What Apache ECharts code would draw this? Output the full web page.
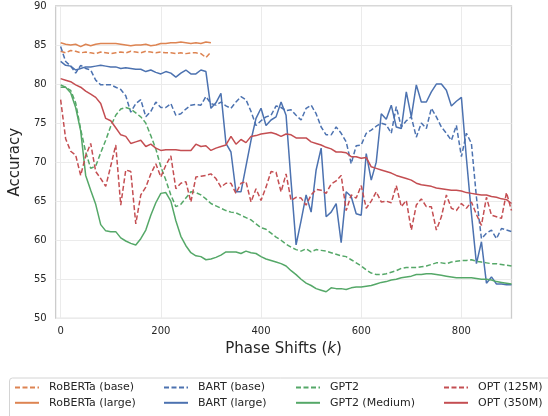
<!DOCTYPE html>
<html>
<head>
<meta charset="utf-8">
<script src="https://cdn.jsdelivr.net/npm/echarts@6/dist/echarts.min.js"></script>
<style>
html,body{margin:0;padding:0;background:#fff;}
#chart{width:548px;height:416px;}
</style>
</head>
<body>
<div id="chart"></div>
<script>
const shifts = [0,10,20,30,40,50,60,70,80,90,100,110,120,130,140,150,160,170,180,190,200,210,220,230,240,250,260,270,280,290,300,310,320,330,340,350,360,370,380,390,400,410,420,430,440,450,460,470,480,490,500,510,520,530,540,550,560,570,580,590,600,610,620,630,640,650,660,670,680,690,700,710,720,730,740,750,760,770,780,790,800,810,820,830,840,850,860,870,880,890,900];

const xTicks = [0,200,400,600,800];

const robertaBase = [84.2,84.0,84.3,84.2,84.0,84.1,84.0,83.9,84.1,84.0,83.9,84.0,84.1,84.0,84.2,84.1,84.0,84.2,84.1,84.0,84.1,84.0,84.0,83.9,84.0,83.9,84.0,84.0,83.9,83.4,84.1];
const robertaLarge = [85.3,85.1,85.0,85.1,84.8,85.1,84.9,85.1,85.2,85.2,85.2,85.2,85.1,85.0,84.9,85.0,85.0,85.1,84.9,85.0,85.2,85.2,85.3,85.3,85.4,85.3,85.2,85.3,85.2,85.4,85.3];

const bartBase = [84.8,82.9,82.3,81.4,82.4,82.0,81.8,80.5,79.9,79.9,79.9,79.6,79.3,78.5,76.4,77.5,78.0,75.8,76.5,77.7,77.0,77.0,77.5,76.0,76.2,76.8,77.3,77.4,77.3,78.4,77.5,77.3,77.7,77.2,76.9,77.7,78.4,78.0,76.5,74.7,75.3,75.8,76.0,77.2,77.0,76.6,76.7,76.0,75.4,76.9,77.3,76.2,74.5,73.5,73.5,74.5,73.7,72.6,69.8,72.1,72.2,73.7,74.1,74.6,75.0,74.8,73.7,77.1,74.5,75.3,75.8,73.2,75.0,74.3,76.9,75.8,74.5,73.7,72.8,74.7,70.7,73.7,72.4,65.5,60.2,60.9,61.3,60.2,61.5,61.3,61.1];
const bartLarge = [82.9,82.4,82.3,81.8,82.0,82.2,82.2,82.3,82.4,82.3,82.2,82.2,82.0,82.1,82.0,81.9,81.9,81.6,81.8,81.5,81.3,81.6,81.4,80.9,81.4,81.8,81.3,81.3,81.8,81.6,76.9,77.6,78.8,72.4,71.3,66.2,66.2,69.5,72.8,75.6,76.9,74.7,75.4,75.8,77.7,76.0,67.5,59.4,62.5,65.8,63.6,69.0,71.8,63.0,63.6,64.7,59.7,66.2,65.6,63.4,63.2,71.1,67.7,70.0,76.2,75.5,77.3,74.5,74.3,79.0,75.8,79.9,77.7,77.7,79.0,80.0,80.0,79.2,77.2,77.8,78.3,70.5,63.4,57.0,59.8,54.5,55.3,54.4,54.4,54.3,54.3];

const gpt2 = [79.6,79.6,79.2,77.6,74.2,71.3,69.2,69.5,71.2,72.8,74.6,76.0,76.8,77.0,76.8,76.3,75.8,75.0,73.4,71.7,69.4,67.7,65.8,64.3,64.6,65.4,66.2,66.1,65.8,65.3,64.7,64.4,64.1,63.8,63.6,63.5,63.2,62.9,62.6,62.1,61.6,61.4,60.9,60.4,60.0,59.5,59.1,58.8,58.6,58.9,58.5,58.8,58.7,58.6,58.4,58.2,58.0,57.9,57.5,57.1,56.7,56.2,55.8,55.6,55.6,55.7,55.9,56.1,56.4,56.5,56.5,56.5,56.6,56.7,56.9,57.1,57.1,57.0,57.2,57.3,57.4,57.4,57.5,57.3,57.2,57.1,57.0,57.0,56.9,56.8,56.7];
const gpt2Medium = [79.9,79.6,78.9,77.0,74.0,68.3,66.4,64.6,62.0,61.2,61.1,61.1,60.3,59.9,59.6,59.4,60.2,61.3,63.2,64.8,66.0,66.1,65.0,62.5,60.5,59.3,58.4,58.0,57.9,57.5,57.6,57.8,58.1,58.5,58.5,58.5,58.3,58.6,58.4,58.3,57.9,57.6,57.4,57.2,57.0,56.7,56.1,55.6,55.0,54.5,54.2,53.8,53.6,53.4,53.9,53.8,53.8,53.7,53.9,54.0,54.0,54.1,54.2,54.4,54.6,54.7,54.9,55.0,55.2,55.3,55.4,55.6,55.6,55.7,55.7,55.6,55.5,55.4,55.3,55.2,55.2,55.2,55.2,55.1,55.0,55.0,54.9,54.7,54.6,54.5,54.4];

const opt125m = [78.0,73.0,71.4,70.9,68.3,70.8,72.4,68.8,67.9,66.9,69.5,72.2,64.5,69.0,68.8,62.1,65.8,66.8,68.5,69.8,68.1,69.6,70.8,66.6,67.3,67.5,64.9,68.1,68.2,68.3,68.5,67.9,66.8,67.3,67.3,66.0,67.3,67.5,64.9,66.6,65.1,66.8,68.8,68.7,66.2,68.5,65.1,65.5,65.4,64.5,65.8,66.5,66.4,66.0,67.2,67.6,68.3,63.8,65.8,65.4,67.0,64.1,65.0,66.2,64.9,65.0,64.8,67.0,64.3,65.1,61.3,64.5,65.3,64.3,64.3,61.3,63.0,65.8,64.1,63.8,64.7,64.1,64.9,63.3,61.9,65.5,63.2,63.0,62.8,66.1,63.8];
const opt350m = [80.7,80.5,80.3,79.9,79.6,79.1,78.7,78.3,77.5,75.6,75.3,74.4,73.5,73.3,72.4,72.6,72.8,72.0,72.3,71.8,71.5,71.6,71.6,71.6,71.5,71.5,71.5,72.3,72.0,72.1,71.5,71.8,72.0,72.2,73.3,72.3,72.9,72.5,73.3,73.4,73.6,73.7,73.8,73.6,73.3,73.6,73.5,73.1,73.1,73.1,72.6,72.4,72.2,71.9,71.7,71.3,71.3,71.2,70.7,70.7,70.5,70.6,69.4,69.2,69.0,68.8,68.6,68.3,68.1,67.9,67.7,67.3,67.1,67.0,66.9,66.7,66.6,66.5,66.4,66.4,66.3,66.1,66.0,65.9,65.8,65.8,65.6,65.5,65.3,65.2,64.7];

const seriesNames = ['RoBERTa (base)','RoBERTa (large)','BART (base)','BART (large)','GPT2','GPT2 (Medium)','OPT (125M)','OPT (350M)'];

const BLUE = '#4C72B0', ORANGE = '#DD8452', GREEN = '#55A868', RED = '#C44E52';
const FONT = 'DejaVu Sans';
const DASH = [5, 2.5];

function pairs(vals) { return vals.map((v, i) => [shifts[i], v]); }

const defs = [
  { name: seriesNames[0], data: robertaBase, color: ORANGE, dashed: true },
  { name: seriesNames[1], data: robertaLarge, color: ORANGE, dashed: false },
  { name: seriesNames[2], data: bartBase, color: BLUE, dashed: true },
  { name: seriesNames[3], data: bartLarge, color: BLUE, dashed: false },
  { name: seriesNames[4], data: gpt2, color: GREEN, dashed: true },
  { name: seriesNames[5], data: gpt2Medium, color: GREEN, dashed: false },
  { name: seriesNames[6], data: opt125m, color: RED, dashed: true },
  { name: seriesNames[7], data: opt350m, color: RED, dashed: false }
];

const series = defs.map(d => ({
  name: d.name,
  type: 'line',
  data: pairs(d.data),
  symbol: 'none',
  smooth: false,
  animation: false,
  color: d.color,
  lineStyle: { color: d.color, width: 1.5, type: d.dashed ? DASH : 'solid' },
  emphasis: { disabled: true }
}));

const legendCols = [14, 163, 295, 443];
const legends = legendCols.map((x, c) => ({
  orient: 'vertical',
  left: x,
  top: 382,
  padding: 0,
  itemWidth: 24,
  itemHeight: 14,
  itemGap: 4,
  data: [seriesNames[c * 2], seriesNames[c * 2 + 1]],
  selectedMode: false,
  itemStyle: { opacity: 0 },
  textStyle: { fontFamily: FONT, fontSize: 11, color: '#262626', padding: [0, 0, 0, 5] }
}));

const chart = echarts.init(document.getElementById('chart'), null, { renderer: 'canvas' });
chart.setOption({
  animation: false,
  backgroundColor: '#ffffff',
  grid: {
    left: 48.3, right: 36.5, top: 6, bottom: 97.7,
    show: true, borderColor: '#cccccc', borderWidth: 1.3, backgroundColor: 'transparent'
  },
  graphic: [{
    type: 'rect',
    shape: { x: 9.5, y: 378, width: 545, height: 50, r: 3 },
    style: { fill: '#ffffff', stroke: '#d4d4d4', lineWidth: 1 },
    z: -1, silent: true
  }],
  legend: legends,
  xAxis: {
    type: 'value',
    min: -10, max: 900,
    name: 'Phase Shifts ({i|k})',
    nameLocation: 'middle',
    nameGap: 20,
    nameTextStyle: { fontFamily: FONT, fontSize: 15, color: '#262626',
      rich: { i: { fontFamily: FONT, fontSize: 15, fontStyle: 'italic', color: '#262626' } } },
    axisLine: { show: false },
    axisTick: { show: false, customValues: xTicks },
    axisLabel: { customValues: xTicks, fontFamily: FONT, fontSize: 10, color: '#262626', margin: 8 },
    splitLine: { show: true, lineStyle: { color: '#ebebeb', width: 1 } }
  },
  yAxis: {
    type: 'value',
    min: 50, max: 90, interval: 5,
    name: 'Accuracy',
    nameLocation: 'middle',
    nameGap: 26,
    nameTextStyle: { fontFamily: FONT, fontSize: 15, color: '#262626' },
    axisLine: { show: false },
    axisTick: { show: false },
    axisLabel: { fontFamily: FONT, fontSize: 10, color: '#262626', margin: 9 },
    splitLine: { show: true, lineStyle: { color: '#ebebeb', width: 1 } }
  },
  series: series
});
</script>
</body>
</html>
